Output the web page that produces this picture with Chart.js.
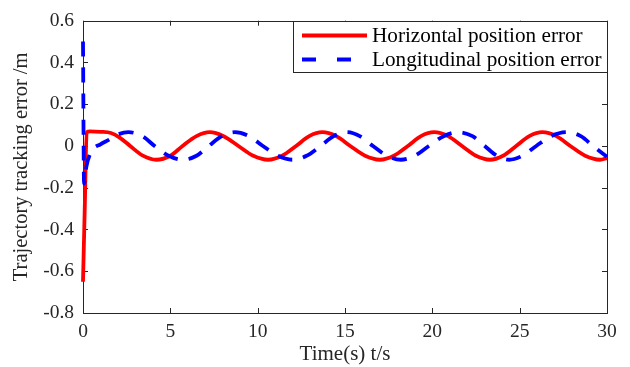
<!DOCTYPE html>
<html><head><meta charset="utf-8">
<script src="https://cdn.jsdelivr.net/npm/chart.js@4"></script>
<style>html,body{margin:0;padding:0;background:#fff}#wrap{width:630px;height:367px;position:relative}</style>
</head><body><div id="wrap"><canvas id="c"></canvas></div>
<script>
const xTicks = [0, 5, 10, 15, 20, 25, 30];
const yTicks = [-0.8, -0.6, -0.4, -0.2, 0, 0.2, 0.4, 0.6];
const seriesLabels = ['Horizontal position error', 'Longitudinal position error'];
const xTitle = 'Time(s) t/s';
const yTitle = 'Trajectory tracking error /m';

const horizontalTime = [0, 0.1, 0.21, 0.4, 1.0, 1.6, 2.1, 2.7, 3.4, 4.2, 5.0, 5.7, 6.5, 7.25, 8.05, 8.9, 9.75, 10.6, 11.4, 12.2, 12.95, 13.7, 14.5, 15.3, 16.15, 17.0, 17.8, 18.6, 19.35, 20.1, 20.9, 21.7, 22.5, 23.3, 24.05, 24.8, 25.55, 26.3, 27.1, 27.9, 28.75, 29.6, 30];
const horizontalError = [-0.65, -0.3, 0.066, 0.07, 0.068, 0.062, 0.04, 0, -0.045, -0.066, -0.047, 0, 0.047, 0.066, 0.047, 0, -0.047, -0.066, -0.047, 0, 0.047, 0.066, 0.047, 0, -0.047, -0.066, -0.047, 0, 0.047, 0.066, 0.047, 0, -0.047, -0.066, -0.047, 0, 0.047, 0.066, 0.047, 0, -0.047, -0.066, -0.058];

const longitudinalTime = [0, 0.06, 0.19, 0.48, 1.0, 1.5, 2.0, 2.6, 3.4, 4.1, 4.9, 5.7, 6.5, 7.2, 7.95, 8.7, 9.5, 10.3, 11.15, 12.0, 12.8, 13.6, 14.35, 15.1, 15.85, 16.6, 17.4, 18.2, 19.0, 19.8, 20.65, 21.5, 22.3, 23.0, 23.7, 24.4, 25.15, 25.95, 26.8, 27.7, 28.5, 29.2, 30];
const longitudinalError = [0.5, -0.18, -0.1, -0.026, 0.008, 0.03, 0.055, 0.066, 0.047, 0, -0.047, -0.066, -0.047, 0, 0.047, 0.066, 0.047, 0, -0.047, -0.066, -0.047, 0, 0.047, 0.066, 0.047, 0, -0.047, -0.066, -0.047, 0, 0.047, 0.066, 0.047, 0, -0.047, -0.066, -0.047, 0, 0.047, 0.066, 0.047, 0, -0.052];

const FONT = '"Liberation Serif", "Times New Roman", serif';
const AXIS_COLOR = '#262626';

const framePlugin = {
  id: 'frame',
  beforeDatasetsDraw(chart) {
    const {ctx, chartArea: a, scales: {x, y}} = chart;
    ctx.save();
    ctx.strokeStyle = AXIS_COLOR;
    ctx.lineWidth = 1;
    ctx.strokeRect(Math.round(a.left) + 0.5, Math.round(a.top) + 0.5, Math.round(a.right - a.left), Math.round(a.bottom - a.top));
    const L = 5;
    ctx.beginPath();
    x.ticks.forEach(t => {
      const px = Math.round(x.getPixelForValue(t.value)) + 0.5;
      ctx.moveTo(px, a.bottom); ctx.lineTo(px, a.bottom - L);
      ctx.moveTo(px, a.top); ctx.lineTo(px, a.top + L);
    });
    y.ticks.forEach(t => {
      const py = Math.round(y.getPixelForValue(t.value)) + 0.5;
      ctx.moveTo(a.left, py); ctx.lineTo(a.left + L, py);
      ctx.moveTo(a.right, py); ctx.lineTo(a.right - L, py);
    });
    ctx.stroke();
    ctx.restore();
  },
  afterDraw(chart) {
    const ctx = chart.ctx;
    const a = chart.chartArea;
    const bx = 293.5, by = Math.round(a.top) + 0.5, bw = Math.round(a.right) - 293, bh = 51;
    ctx.save();
    ctx.fillStyle = '#fff';
    ctx.fillRect(bx, by, bw, bh);
    ctx.strokeStyle = AXIS_COLOR;
    ctx.lineWidth = 1;
    ctx.strokeRect(bx, by, bw, bh);
    const rows = [by + 14, by + 38];
    chart.data.datasets.forEach((ds, i) => {
      ctx.beginPath();
      ctx.strokeStyle = ds.borderColor;
      ctx.lineWidth = ds.borderWidth;
      ctx.lineCap = 'butt';
      ctx.setLineDash(i === 1 ? [14, 21] : []);
      ctx.moveTo(302, rows[i]);
      ctx.lineTo(367, rows[i]);
      ctx.stroke();
      ctx.setLineDash([]);
      ctx.fillStyle = '#000';
      ctx.font = '21.2px ' + FONT;
      ctx.textBaseline = 'middle';
      ctx.textAlign = 'left';
      ctx.fillText(ds.label, 372, rows[i] + 1);
    });
    ctx.restore();
  }
};

const chart = new Chart(document.getElementById('c'), {
  type: 'line',
  data: {
    datasets: [
      {
        label: seriesLabels[0],
        data: horizontalTime.map((t, i) => ({x: t, y: horizontalError[i]})),
        borderColor: 'rgb(255,0,0)',
        borderWidth: 3.8,
        pointRadius: 0,
        cubicInterpolationMode: 'monotone',
        fill: false,
        clip: 6,
        order: 1
      },
      {
        label: seriesLabels[1],
        data: longitudinalTime.map((t, i) => ({x: t, y: longitudinalError[i]})),
        borderColor: 'rgb(0,0,255)',
        borderWidth: 3.8,
        borderDash: [15, 11],
        borderCapStyle: 'butt',
        pointRadius: 0,
        cubicInterpolationMode: 'monotone',
        fill: false,
        clip: 6,
        order: 0
      }
    ]
  },
  options: {
    responsive: true,
    maintainAspectRatio: false,
    animation: false,
    devicePixelRatio: 1,
    layout: {padding: {top: 14, right: 23, left: 0, bottom: 0}},
    plugins: {legend: {display: false}, tooltip: {enabled: false}},
    scales: {
      x: {
        type: 'linear', min: 0, max: 30,
        afterBuildTicks: s => { s.ticks = xTicks.map(v => ({value: v})); },
        afterFit: s => { s.height = 54; },
        grid: {display: false, drawTicks: false},
        border: {display: false},
        ticks: {font: {family: FONT, size: 19.5}, color: AXIS_COLOR, padding: 7, maxRotation: 0, autoSkip: false, callback: v => String(v)},
        title: {display: true, text: xTitle, font: {family: FONT, size: 21}, color: AXIS_COLOR, padding: {top: 0, bottom: 0}}
      },
      y: {
        type: 'linear', min: -0.8, max: 0.6,
        afterBuildTicks: s => { s.ticks = yTicks.map(v => ({value: v})); },
        afterFit: s => { s.width = 83; },
        grid: {display: false, drawTicks: false},
        border: {display: false},
        ticks: {font: {family: FONT, size: 19.5}, color: AXIS_COLOR, padding: 9, autoSkip: false,
          callback: v => { const r = Math.round(v * 10) / 10; return r === 0 ? '0' : String(r); }},
        title: {display: true, text: yTitle, font: {family: FONT, size: 20.5}, color: AXIS_COLOR, padding: {top: 9, bottom: 0}}
      }
    }
  },
  plugins: [framePlugin]
});
</script>
</body></html>
